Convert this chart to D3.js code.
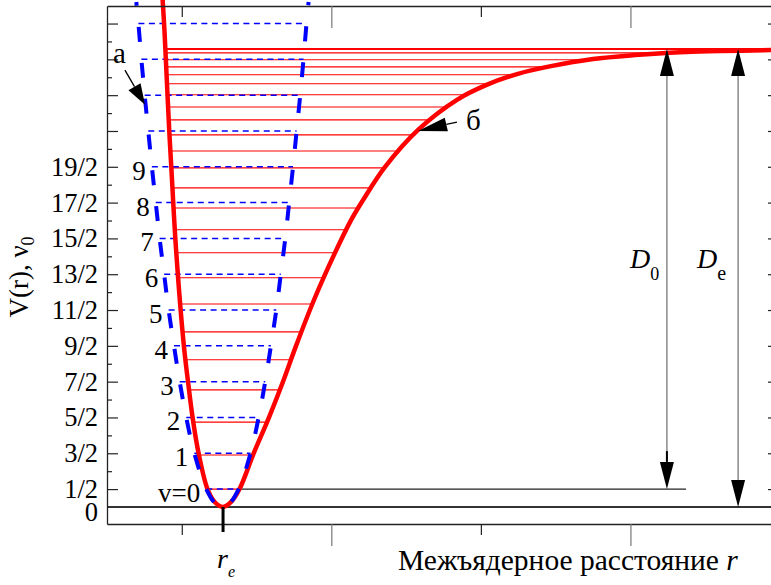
<!DOCTYPE html>
<html>
<head>
<meta charset="utf-8">
<script src="https://d3js.org/d3.v7.min.js"></script>
<style>
  body { margin: 0; background: #fff; }
  svg { display: block; background: #fff; }
</style>
</head>
<body>
<svg id="chart" width="771" height="585"></svg>
<script>
// Morse potential, points (r in axis units, V in units of hw)
const morseR = [0.436, 0.442, 0.450, 0.458, 0.465, 0.481, 0.507, 0.521, 0.536, 0.556, 0.586, 0.610, 0.638,
                0.665, 0.693, 0.741, 0.792, 0.838, 0.882, 0.942, 1.009, 1.066, 1.106, 1.179, 1.290,
                1.420, 1.517, 1.621, 1.734, 1.875, 2.015, 2.166, 2.299, 2.470];
const morseV = [14.16, 13.32, 11.92, 10.53, 9.49, 7.18, 4.50, 3.49, 2.51, 1.51, 0.50, 0.14, 0,
                0.14, 0.50, 1.51, 2.51, 3.49, 4.50, 5.78, 7.04, 8.01, 8.57, 9.49, 10.53,
                11.37, 11.78, 12.09, 12.31, 12.51, 12.62, 12.70, 12.73, 12.76];
// Morse vibrational levels (red lines) and dissociation limit
const morseLevels = [0.50, 1.45, 2.37, 3.27, 4.11, 4.89, 5.67, 6.40, 7.10, 7.74, 8.35, 8.91,
                     9.47, 9.94, 10.39, 10.81, 11.17, 11.51, 11.82, 12.07, 12.29, 12.49, 12.68];
const dissociation = 12.79;

// Harmonic potential (blue dashed parabola)
const harmV     = [14.1, 13.5, 12.5, 11.5, 10.5, 9.5, 8.5, 7.5, 6.5, 5.5, 4.5, 3.5, 2.5, 1.5, 0.5, 0.1, 0];
const harmLeft  = [0.348, 0.355, 0.365, 0.376, 0.388, 0.400, 0.413, 0.426, 0.441, 0.456, 0.474, 0.493, 0.515, 0.542, 0.582, 0.612, 0.636];
const harmRight = [0.924, 0.917, 0.907, 0.896, 0.884, 0.872, 0.859, 0.846, 0.831, 0.816, 0.798, 0.779, 0.757, 0.730, 0.690, 0.660, 0.636];
const harmLevels = [0.5, 1.5, 2.5, 3.5, 4.5, 5.5, 6.5, 7.5, 8.5, 9.5, 10.5, 11.5, 12.5, 13.5];
const levelLabels = ["v=0", "1", "2", "3", "4", "5", "6", "7", "8", "9"];

// axes
const yMajor = [0.5, 1.5, 2.5, 3.5, 4.5, 5.5, 6.5, 7.5, 8.5, 9.5, 10.5, 11.5, 12.5, 13.5];
const yMinor = [1, 2, 3, 4, 5, 6, 7, 8, 9, 10, 11, 12, 13];
const yLabelValues = [0, 0.5, 1.5, 2.5, 3.5, 4.5, 5.5, 6.5, 7.5, 8.5, 9.5];
const yTickLabels = ["0", "1/2", "3/2", "5/2", "7/2", "9/2", "11/2", "13/2", "15/2", "17/2", "19/2"];
const xMajor = [1, 2];
const xMinor = [0.5, 1.5];
const rE = 0.638;

const serif = '"Liberation Serif", "Times New Roman", serif';
const svg = d3.select("#chart");

const x = d3.scaleLinear().domain([0.25, 2.47]).range([107, 771]);
const y = d3.scaleLinear().domain([-0.475, 13.99]).range([524, 6]);

const line = d3.line()
    .x(d => x(d[0]))
    .y(d => y(d[1]))
    .curve(d3.curveCatmullRom.alpha(0.5));

// layers, bottom to top
const gRedLevels = svg.append("g");
const gBlueLevels = svg.append("g");
const gRedCurve = svg.append("g");
const gBlue = svg.append("g");
const gAxes = svg.append("g");
const gNotes = svg.append("g");

// Morse curve
const redPath = gRedCurve.append("path")
    .datum(morseR.map((r, i) => [r, morseV[i]]))
    .attr("d", line)
    .attr("fill", "none")
    .attr("stroke", "#ff0000")
    .attr("stroke-width", 4.5);

// sample the drawn curve to find where each level meets the walls
const node = redPath.node();
const total = node.getTotalLength();
const samples = d3.range(0, total, 0.5).map(l => node.getPointAtLength(l));
const iMin = d3.maxIndex(samples, p => p.y);
function walls(py) {
    let xl = samples[0].x, xr = samples[samples.length - 1].x;
    for (let i = 1; i <= iMin; i++) {
        if (samples[i].y >= py) {
            const a = samples[i - 1], b = samples[i];
            xl = a.x + (b.x - a.x) * (py - a.y) / (b.y - a.y);
            break;
        }
    }
    for (let i = iMin + 1; i < samples.length; i++) {
        if (samples[i].y <= py) {
            const a = samples[i - 1], b = samples[i];
            xr = a.x + (b.x - a.x) * (py - a.y) / (b.y - a.y);
            break;
        }
    }
    return [xl, xr];
}

// red vibrational levels
gRedLevels.selectAll("line.lvl")
    .data(morseLevels)
    .enter().append("line")
    .attr("class", "lvl")
    .attr("x1", d => walls(y(d))[0])
    .attr("x2", d => walls(y(d))[1])
    .attr("y1", d => y(d))
    .attr("y2", d => y(d))
    .attr("stroke", "#ff0000")
    .attr("stroke-width", 1.1);

gRedLevels.append("line")
    .attr("x1", walls(y(dissociation))[0])
    .attr("x2", x(2.47))
    .attr("y1", y(dissociation))
    .attr("y2", y(dissociation))
    .attr("stroke", "#ff0000")
    .attr("stroke-width", 2);

// zero-point level line and the V=0 baseline
gRedLevels.append("line")
    .attr("x1", walls(y(0.5))[1])
    .attr("x2", x(2.186))
    .attr("y1", y(0.5))
    .attr("y2", y(0.5))
    .attr("stroke", "#222")
    .attr("stroke-width", 1.2);

gRedLevels.append("line")
    .attr("x1", x(0.25))
    .attr("x2", x(2.47))
    .attr("y1", y(0))
    .attr("y2", y(0))
    .attr("stroke", "#333")
    .attr("stroke-width", 2);

// blue harmonic levels
gBlueLevels.selectAll("line")
    .data(harmLevels)
    .enter().append("line")
    .attr("x1", d => x(harmLeft[harmV.indexOf(d)]))
    .attr("x2", d => x(harmRight[harmV.indexOf(d)]))
    .attr("y1", d => y(d))
    .attr("y2", d => y(d))
    .attr("stroke", "#0000ff")
    .attr("stroke-width", 1.5)
    .attr("stroke-dasharray", "6,4.5");

// blue parabola
const harmPts = harmV.map((v, i) => [harmLeft[i], v])
    .concat(harmV.slice(0, -1).reverse().map(v => [harmRight[harmV.indexOf(v)], v]));
gBlue.append("path")
    .datum(harmPts)
    .attr("d", line)
    .attr("fill", "none")
    .attr("stroke", "#0000ff")
    .attr("stroke-width", 4)
    .attr("stroke-dasharray", "15,21")
    .attr("stroke-dashoffset", 11);

// level numbers
gNotes.selectAll("text.lv")
    .data(levelLabels)
    .enter().append("text")
    .attr("class", "lv")
    .attr("x", (d, i) => x(harmLeft[harmV.indexOf(harmLevels[i])]) - 6)
    .attr("y", (d, i) => y(harmLevels[i]) + 13)
    .attr("text-anchor", "end")
    .attr("font-family", serif)
    .attr("font-size", 27)
    .text(d => d);

// axes
function styleAxis(g, color) {
    g.attr("color", color).selectAll("line").attr("stroke-width", 1.2);
    g.select(".domain").attr("stroke", "#222").attr("stroke-width", 1.3);
}
gAxes.append("g").attr("transform", "translate(107,0)")
    .call(d3.axisRight(y).tickValues(yMajor).tickSize(11).tickSizeOuter(0).tickFormat(""))
    .call(g => styleAxis(g, "#222"));
gAxes.append("g").attr("transform", "translate(107,0)")
    .call(d3.axisRight(y).tickValues(yMinor).tickSize(5).tickSizeOuter(0).tickFormat(""))
    .call(g => styleAxis(g, "#222"))
    .call(g => g.select(".domain").remove());
gAxes.append("g").attr("transform", "translate(779,0)")
    .call(d3.axisLeft(y).tickValues(yMajor).tickSize(11).tickSizeOuter(0).tickFormat(""))
    .call(g => styleAxis(g, "#222"));
gAxes.append("g").attr("transform", "translate(107,0)")
    .call(d3.axisLeft(y).tickValues(yLabelValues).tickSize(0).tickPadding(9)
        .tickFormat((d, i) => yTickLabels[i]))
    .call(g => g.select(".domain").remove())
    .call(g => g.selectAll(".tick text").filter(d => d === 0).attr("dy", "0.5em"))
    .attr("font-family", serif)
    .attr("font-size", 26.5)
    .attr("color", "#000");

[6, 524].forEach(py => {
    gAxes.append("g").attr("transform", `translate(0,${py})`)
        .call(d3.axisBottom(x).tickValues(xMajor).tickSize(22).tickSizeOuter(0).tickFormat(""))
        .call(g => styleAxis(g, "#777"));
    gAxes.append("g").attr("transform", `translate(0,${py})`)
        .call(d3.axisBottom(x).tickValues(xMinor).tickSize(11).tickSizeOuter(0).tickFormat(""))
        .call(g => styleAxis(g, "#222"))
        .call(g => g.select(".domain").remove());
});

// r_e marker
gAxes.append("line")
    .attr("x1", x(rE)).attr("x2", x(rE))
    .attr("y1", y(0)).attr("y2", y(0) + 25)
    .attr("stroke", "#000").attr("stroke-width", 3);

// axis titles
gNotes.append("text")
    .attr("transform", "translate(28,277) rotate(-90)")
    .attr("text-anchor", "middle")
    .attr("font-family", serif)
    .attr("font-size", 27)
    .call(t => {
        t.append("tspan").text("V(r), ν");
        t.append("tspan").attr("font-size", 18).attr("dy", 6).text("0");
    });

gNotes.append("text")
    .attr("x", 398).attr("y", 570)
    .attr("font-family", serif)
    .attr("font-size", 29.5)
    .call(t => {
        t.append("tspan").text("Межъядерное расстояние ");
        t.append("tspan").attr("font-style", "italic").text("r");
    });

gNotes.append("text")
    .attr("x", x(rE) - 6).attr("y", 568)
    .attr("font-family", serif)
    .attr("font-size", 28)
    .attr("font-style", "italic")
    .call(t => {
        t.append("tspan").text("r");
        t.append("tspan").attr("font-size", 16).attr("dy", 9).text("e");
    });

// arrows
function arrow(g, x1, y1, x2, y2, len, wid, color) {
    const dx = x2 - x1, dy = y2 - y1, d = Math.hypot(dx, dy);
    const ux = dx / d, uy = dy / d;
    const bx = x2 - ux * len, by = y2 - uy * len;
    g.append("line")
        .attr("x1", x1).attr("y1", y1).attr("x2", bx).attr("y2", by)
        .attr("stroke", color).attr("stroke-width", 1.3);
    g.append("path")
        .attr("d", `M${x2},${y2}L${bx - uy * wid / 2},${by + ux * wid / 2}L${bx + uy * wid / 2},${by - ux * wid / 2}Z`)
        .attr("fill", "#000");
}

arrow(gNotes, x(0.310), y(12.20), x(0.377), y(11.23), 21, 14, "#000");
gNotes.append("text")
    .attr("x", x(0.27)).attr("y", y(12.40))
    .attr("font-family", serif).attr("font-size", 29)
    .text("а");

arrow(gNotes, x(1.420), y(10.75), x(1.290), y(10.50), 29, 14, "#000");
gNotes.append("text")
    .attr("x", x(1.45)).attr("y", y(10.53))
    .attr("font-family", serif).attr("font-size", 29)
    .text("б");

// D0 and De double arrows
function doubleArrow(xr, vTop, vBot) {
    const px = x(xr), yt = y(vTop), yb = y(vBot), mid = (yt + yb) / 2;
    arrow(gNotes, px, mid, px, yt, 27, 14, "#777");
    arrow(gNotes, px, mid, px, yb, 27, 14, "#777");
}
doubleArrow(2.122, dissociation, 0.5);
doubleArrow(2.360, dissociation, 0);
gNotes.append("line")
    .attr("x1", x(2.122)).attr("x2", x(2.122))
    .attr("y1", y(1.56)).attr("y2", y(1.26))
    .attr("stroke", "#000").attr("stroke-width", 2);

function dLabel(px, sub, subSize) {
    gNotes.append("text")
        .attr("x", px).attr("y", 268)
        .attr("font-family", serif)
        .attr("font-size", 28)
        .call(t => {
            t.append("tspan").attr("font-style", "italic").text("D");
            t.append("tspan").attr("font-size", subSize).attr("dy", 12).text(sub);
        });
}
dLabel(630, "0", 18);
dLabel(697, "e", 20);
</script>
</body>
</html>
